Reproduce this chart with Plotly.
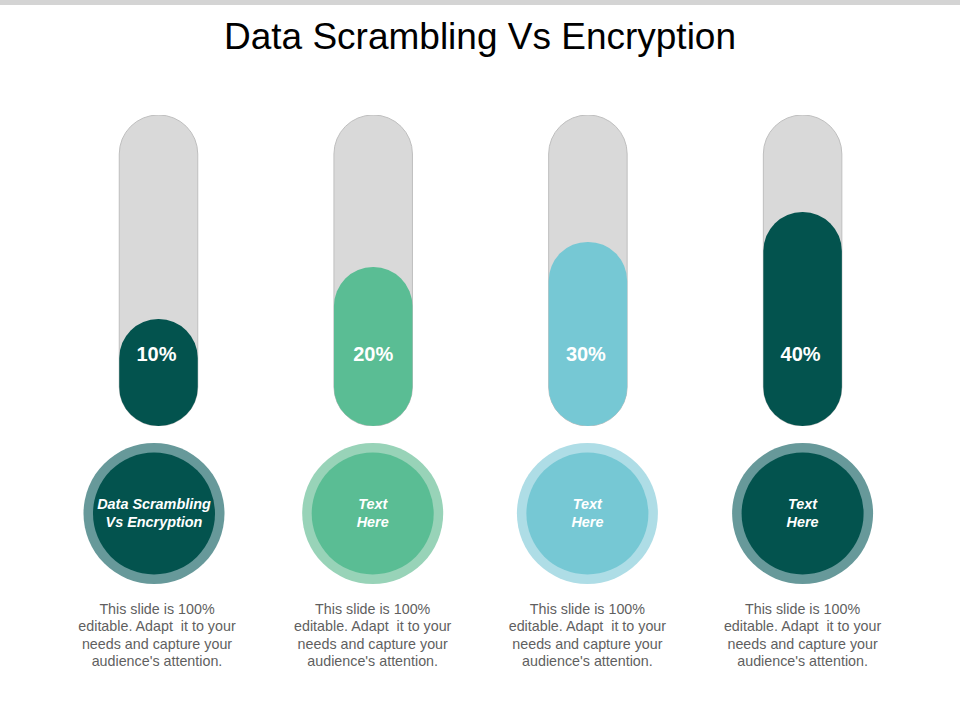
import plotly.graph_objects as go

# ---- data ----
title_text = "Data Scrambling Vs Encryption"
columns = [0, 1, 2, 3]
value_labels = ["10%", "20%", "30%", "40%"]
fill_heights = [34.4, 51.1, 59.2, 68.8]      # drawn height of each pill, % of the track
track_heights = [100, 100, 100, 100]
circle_labels = ["Data Scrambling<br>Vs Encryption", "Text<br>Here", "Text<br>Here", "Text<br>Here"]
description_lines = ["This slide is 100%", "editable. Adapt  it to your",
                     "needs and capture your", "audience's attention."]
fill_colors = ["#03534E", "#5ABD94", "#76C8D4", "#03534E"]
ring_colors = ["#67999A", "#98D3B8", "#AEDDE6", "#67999A"]

# ---- layout constants (pixels of the 960x720 page) ----
W, H = 960, 720
COL_STEP = 214.7
COL_ZERO = 158.5
def row(top, bottom):
    return [1 - bottom / H, 1 - top / H]

LABEL_LEVEL = 22.6
CORNER = 39
BAR_WIDTH = 78.5 / COL_STEP
circle_x = [c + s / COL_STEP for c, s in zip(columns, [-4.5, -0.5, -0.5, 0])]
label_x = [c + s / COL_STEP for c, s in zip(columns, [-2, 0, -2, -2])]
desc_x = [c + s / COL_STEP for c, s in zip(columns, [-1.5, -0.5, -0.5, 0])]

fig = go.Figure()

# A bar with an explicit base rounds both of its ends, which gives the pill shape.
def pill(heights, colors, line):
    fig.add_trace(go.Bar(
        x=columns, y=heights, base=[0] * len(heights), width=BAR_WIDTH,
        marker=dict(color=colors, line=line), showlegend=False, hoverinfo="skip"))

pill(track_heights, ["#D9D9D9"] * 4, dict(color="#BFBFBF", width=1))
pill(fill_heights, fill_colors, dict(width=0))

fig.add_trace(go.Scatter(
    x=label_x, y=[LABEL_LEVEL] * 4, mode="text", text=value_labels,
    textfont=dict(family="Liberation Sans", size=20, color="white", weight="bold"),
    showlegend=False, hoverinfo="skip", cliponaxis=False))

mid = [0.5] * 4
fig.add_trace(go.Scatter(
    x=circle_x, y=mid, yaxis="y2", mode="markers",
    marker=dict(size=141, color=ring_colors, line=dict(width=0), opacity=1),
    showlegend=False, hoverinfo="skip", cliponaxis=False))
fig.add_trace(go.Scatter(
    x=circle_x, y=mid, yaxis="y2", mode="markers",
    marker=dict(size=122, color=fill_colors, line=dict(width=0), opacity=1),
    showlegend=False, hoverinfo="skip", cliponaxis=False))
fig.add_trace(go.Scatter(
    x=circle_x, y=[m - 1 / 141 for m in mid], yaxis="y2", mode="text", text=circle_labels,
    textposition="middle center",
    textfont=dict(family="Liberation Sans", size=14.4, color="white", weight="bold", style="italic"),
    showlegend=False, hoverinfo="skip", cliponaxis=False))
for i, line in enumerate(description_lines):
    fig.add_trace(go.Scatter(
        x=desc_x, y=[i] * 4, yaxis="y3", mode="text", text=[line] * 4,
        textposition="middle center",
        textfont=dict(family="Liberation Sans", size=14.3, color="#5F5F5F"),
        showlegend=False, hoverinfo="skip", cliponaxis=False))

hidden = dict(visible=False, showgrid=False, zeroline=False, fixedrange=True)
fig.update_layout(
    width=W, height=H, autosize=False,
    margin=dict(l=0, r=0, t=0, b=0, pad=0),
    paper_bgcolor="white", plot_bgcolor="white",
    barmode="overlay", barcornerradius=CORNER, showlegend=False,
    title=dict(text=title_text, x=0.5, xanchor="center", xref="paper",
               y=1 - 36 / H, yanchor="middle", yref="paper",
               font=dict(family="Liberation Sans", size=37, color="black")),
    xaxis=dict(range=[-COL_ZERO / COL_STEP, (W - COL_ZERO) / COL_STEP], **hidden),
    yaxis=dict(domain=row(115, 426), range=[0, 100], **hidden),
    yaxis2=dict(domain=row(443, 584), range=[0, 1], anchor="x", **hidden),
    yaxis3=dict(domain=row(601.2, 671.6), range=[3.5, -0.5], anchor="x", **hidden),
    shapes=[dict(type="rect", xref="paper", yref="paper", x0=0, x1=1,
                 y0=1 - 5 / H, y1=1, fillcolor="#D4D4D4", line=dict(width=0), layer="below")],
)

fig.write_html("out.html", config=dict(displayModeBar=False),
               post_script="document.body.style.margin='0';document.body.style.overflow='hidden';")
